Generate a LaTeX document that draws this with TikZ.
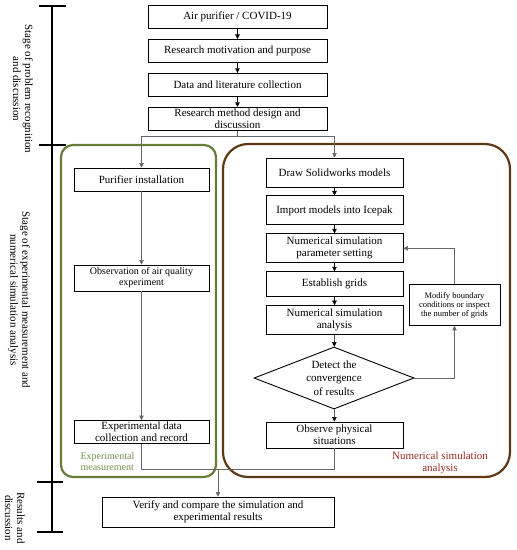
\documentclass[tikz,border=0pt]{standalone}
\usepackage{fontspec}
\setmainfont{Liberation Serif}
\usetikzlibrary{arrows.meta,positioning,shapes.geometric}
\definecolor{expgreen}{RGB}{104,124,58}
\definecolor{expgreentext}{RGB}{112,142,72}
\definecolor{simbrown}{RGB}{92,56,20}
\definecolor{simred}{RGB}{150,42,32}

\begin{document}
\begin{tikzpicture}[
    x=1pt, y=-1pt,
    font=\fontsize{11}{12}\selectfont,
    node distance=10pt,
    box/.style={draw, line width=0.9pt, align=center, inner sep=1pt, minimum height=23pt},
    topbox/.style={box, minimum width=179pt},
    leftbox/.style={box, minimum width=135pt},
    rightbox/.style={box, minimum width=137pt, minimum height=29pt},
    decision/.style={draw, line width=0.9pt, diamond, aspect=2.6, align=center, inner sep=0pt,
      minimum width=160pt, minimum height=62pt, font=\fontsize{11}{13.5}\selectfont},
    smallbox/.style={box, minimum width=91pt, minimum height=41pt, font=\fontsize{8.5}{9}\selectfont},
    stage/.style={rotate=-90, align=center},
    group/.style={draw, line width=2.2pt},
    arrow/.style={-{Triangle[length=4.5pt,width=4.5pt]}, line width=0.5pt},
    thinline/.style={draw=black!60, line width=0.5pt}
  ]
    \useasboundingbox (0,0) rectangle (517,550);

    % stage bracket
    \draw[line width=1.2pt] (52,6) -- (52,532);
    \foreach \y in {6,145} \draw[line width=1.2pt] (39,\y) -- (66,\y);
    \foreach \y in {482,532} \draw[line width=1.2pt] (37,\y) -- (63,\y);
    \node[stage] (stageone) at (23,89) {Stage of problem recognition\\and discussion};
    \node[stage] (stagetwo) at (19,300) {Stage of experimental measurement and\\numerical simulation analysis};
    \node[stage] (stagethree) at (15,518) {Results and\\discussion};

    % groups
    \node[group, draw=expgreen, rounded corners=12pt, minimum width=155pt, minimum height=332pt] (expgroup) at (138.5,311) {};
    \node[group, draw=simbrown, rounded corners=25pt, minimum width=287pt, minimum height=333pt] (simgroup) at (366.5,310.5) {};
    \node[text=expgreentext, align=left, anchor=north west, font=\fontsize{10}{11}\selectfont] (explabel) at (77,449) {Experimental\\measurement};
    \node[text=simred, align=center, anchor=north] (simlabel) at (440,448) {Numerical simulation\\analysis};

    % problem recognition
    \node[topbox] (covid) at (237.5,17) {Air purifier / COVID-19};
    \node[topbox, below=of covid] (motiv) {Research motivation and purpose};
    \node[topbox, below=of motiv] (collect) {Data and literature collection};
    \node[topbox, below=of collect] (method) {Research method design and\\discussion};

    % experimental measurement
    \node[leftbox] (purifier) at (141.5,179.5) {Purifier installation};
    \node[leftbox, minimum height=26pt, font=\fontsize{10}{11}\selectfont] (observation) at (141.5,278) {Observation of air quality\\experiment};
    \node[leftbox] (expdata) at (141.5,432) {Experimental data\\collection and record};

    % numerical simulation
    \node[rightbox] (solid) at (334.5,172.5) {Draw Solidworks models};
    \node[rightbox, below=8pt of solid] (icepak) {Import models into Icepak};
    \node[rightbox, below=8pt of icepak] (param) {Numerical simulation\\parameter setting};
    \node[rightbox, minimum height=25pt, below=8pt of param] (grids) {Establish grids};
    \node[rightbox, below=8pt of grids] (analysis) {Numerical simulation\\analysis};
    \node[decision] (detect) at (334,378) {Detect the\\convergence\\of results};
    \node[rightbox, minimum height=26pt] (physical) at (334.5,435) {Observe physical\\situations};
    \node[smallbox] (modify) at (454.5,305) {Modify boundary\\conditions or inspect\\the number of grids};

    % results
    \node[box, minimum width=232pt, minimum height=30pt] (verify) at (218,512) {Verify and compare the simulation and\\experimental results};

    \coordinate (split) at (237.5,136);
    \coordinate (merge) at (218,469);

    \draw[arrow] (covid) -- (motiv);
    \draw[arrow] (motiv) -- (collect);
    \draw[arrow] (collect) -- (method);
    \draw[thinline] (method) -- (split);
    \draw[thinline, arrow] (split) -| (purifier);
    \draw[thinline, arrow] (split) -| (solid);
    \draw[thinline, arrow] (purifier) -- (observation);
    \draw[thinline, arrow] (observation) -- (expdata);
    \draw[arrow] (solid) -- (icepak);
    \draw[arrow] (icepak) -- (param);
    \draw[arrow] (param) -- (grids);
    \draw[arrow] (grids) -- (analysis);
    \draw[arrow] (analysis) -- (detect);
    \draw[arrow] (detect) -- (physical);
    \draw[thinline, arrow] (detect.east) -| (modify);
    \draw[thinline, arrow] (modify) |- (param);
    \draw[thinline] (expdata) |- (merge);
    \draw[thinline] (physical) |- (merge);
    \draw[thinline, arrow] (merge) -- (verify);
  \end{tikzpicture}
\end{document}
